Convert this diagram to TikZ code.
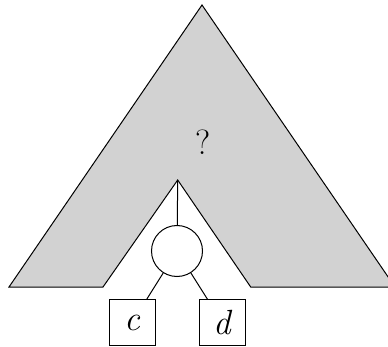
\documentclass[tikz,border=0pt]{standalone}
\usepackage{fontspec}
\begin{document}
\begin{tikzpicture}[x=1pt,y=-1pt,
  leaf/.style={draw,line width=1pt,minimum size=46pt,inner sep=0pt,font=\fontsize{35}{40}\selectfont\itshape},
  inner/.style={draw,circle,line width=1pt,minimum size=51pt,inner sep=0pt,fill=white},
  edge/.style={line width=1pt}]
\useasboundingbox (0,0) rectangle (388,347);
\begin{scope}
\clip (0,0) rectangle (388,347);
\fill[gray!35] (202,5) -- (9,287) -- (103,287) -- (177.7,180) -- (250.7,287) -- (395,287) -- cycle;
\draw[line width=1pt,line join=miter] (395,287) -- (202,5) -- (9,287) -- (103,287) -- (177.7,180) -- (250.7,287) -- (395,287);
\end{scope}
\coordinate (top) at (177.7,180);
\node[font=\fontsize{35}{40}\selectfont] (q) at (203,142) {?};
\node[inner] (n) at (177,251) {};
\node[leaf] (c) at (132,322.7) {c};
\node[leaf] (d) at (222.3,322.7) {d};
\draw[edge] (top) -- (n);
\draw[edge] (n) -- (c);
\draw[edge] (n) -- (d);
\end{tikzpicture}
\end{document}
